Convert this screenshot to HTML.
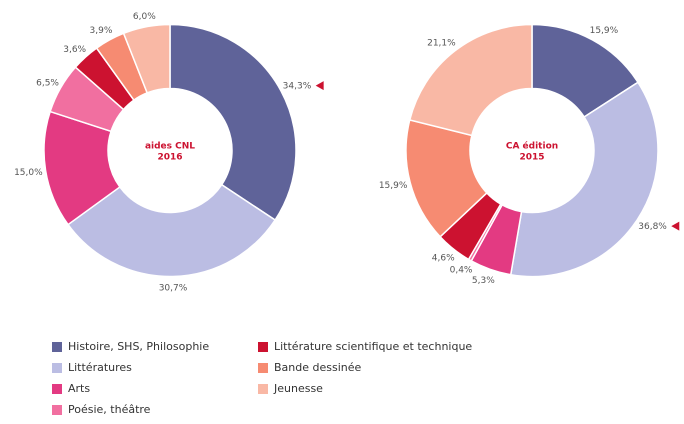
<!DOCTYPE html>
<html><head><meta charset="utf-8"><style>
body{margin:0;background:#fff;width:684px;height:424px;overflow:hidden;font-family:"DejaVu Sans","Liberation Sans",sans-serif}
.leg{position:absolute;font-size:11px;color:#333;display:flex;align-items:center;line-height:13px}
.leg span{width:10px;height:10px;display:inline-block;margin-right:6px}
</style></head><body>
<svg id="c" width="684" height="424" style="position:absolute;left:0;top:0"></svg>
<div class="leg" style="left:52px;top:340px"><span style="background:#5f6399"></span>Histoire, SHS, Philosophie</div>
<div class="leg" style="left:52px;top:361px"><span style="background:#bbbde3"></span>Littératures</div>
<div class="leg" style="left:52px;top:382px"><span style="background:#e33a82"></span>Arts</div>
<div class="leg" style="left:52px;top:403px"><span style="background:#f16fa0"></span>Poésie, théâtre</div>
<div class="leg" style="left:258px;top:340px"><span style="background:#cc1230"></span>Littérature scientifique et technique</div>
<div class="leg" style="left:258px;top:361px"><span style="background:#f68b72"></span>Bande dessinée</div>
<div class="leg" style="left:258px;top:382px"><span style="background:#f9b8a5"></span>Jeunesse</div>
<script>
const categories=["Histoire, SHS, Philosophie","Littératures","Arts","Poésie, théâtre","Littérature scientifique et technique","Bande dessinée","Jeunesse"];
const valuesCNL=[34.3,30.7,15.0,6.5,3.6,3.9,6.0];
const valuesCA=[15.9,36.8,5.3,0.4,4.6,15.9,21.1];
const labelsCNL=["34,3%","30,7%","15,0%","6,5%","3,6%","3,9%","6,0%"];
const labelsCA=["15,9%","36,8%","5,3%","0,4%","4,6%","15,9%","21,1%"];
const colors=["#5f6399","#bbbde3","#e33a82","#f16fa0","#cc1230","#f68b72","#f9b8a5"];
const svg=document.getElementById('c');const NS="http://www.w3.org/2000/svg";
function mk(t,a){const e=document.createElementNS(NS,t);for(const k in a)e.setAttribute(k,a[k]);svg.appendChild(e);return e;}
function donut(cx,cy,R,r,vals,labs,title,name,lr){
 const tot=vals.reduce((a,b)=>a+b,0);let a0=0;const mx=vals.indexOf(Math.max(...vals));
 vals.forEach((v,i)=>{const a1=a0+v/tot*2*Math.PI;
  const p=(a,rad)=>[cx+rad*Math.sin(a),cy-rad*Math.cos(a)];
  const [x0,y0]=p(a0,R),[x1,y1]=p(a1,R),[x2,y2]=p(a1,r),[x3,y3]=p(a0,r);const lg=a1-a0>Math.PI?1:0;
  const s=mk('path',{d:`M${x0},${y0}A${R},${R} 0 ${lg} 1 ${x1},${y1}L${x2},${y2}A${r},${r} 0 ${lg} 0 ${x3},${y3}Z`,fill:colors[i],stroke:'#fff','stroke-width':1.5});
  
  
  const am=(a0+a1)/2;const sn=Math.sin(am);const [lx,ly]=p(am,lr);
  const anc=Math.abs(sn)<0.25?'middle':(sn>0?'start':'end');
  const t=mk('text',{x:lx+(anc==='start'?-8:anc==='end'?8:0),y:ly+3,'text-anchor':anc,'font-size':9,fill:'#555'});
  t.textContent=labs[i];
  
  
  if(i===mx){const w=labs[i].length*5.6;const tx=(anc==='end'?lx+8:anc==='start'?lx-8+w:lx+w/2)+5;
   const tri=mk('path',{d:`M${tx},${ly}L${tx+8},${ly-4.5}L${tx+8},${ly+4.5}Z`,fill:'#cc1230'});
   
   }
  a0=a1;});
 title.forEach((l,j)=>{const t=mk('text',{x:cx,y:cy-2+j*11,'text-anchor':'middle','font-size':9,'font-weight':'bold',fill:'#cc1230'});t.textContent=l;
  
  });
}
donut(170,150.5,126,62,valuesCNL,labelsCNL,["aides CNL","2016"],'cnl',137);
donut(532,150.5,126,62,valuesCA,labelsCA,["CA édition","2015"],'ca',137);
</script>
</body></html>
